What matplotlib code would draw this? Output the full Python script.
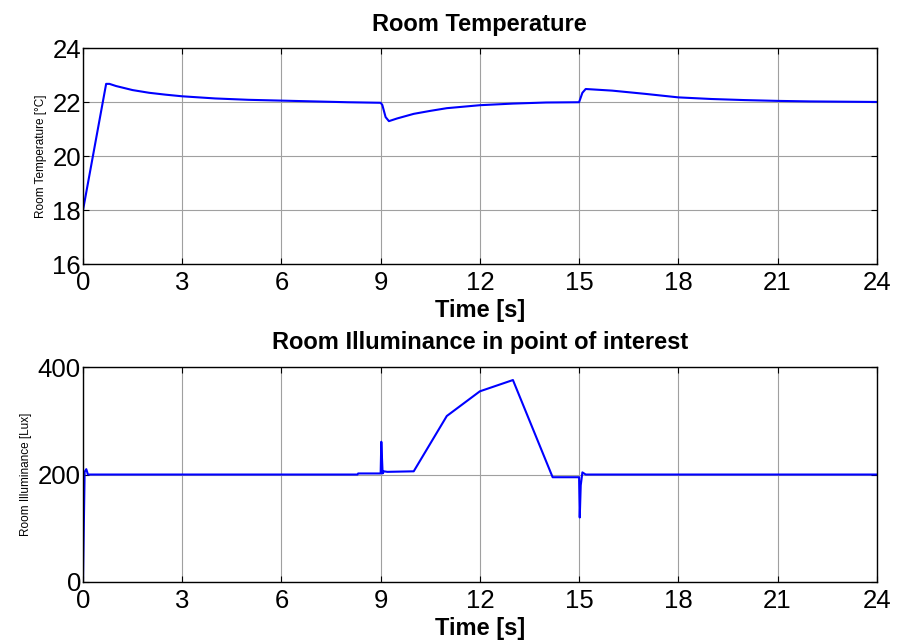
import numpy as np
import matplotlib.pyplot as plt

plt.rcParams['font.family'] = ['Liberation Sans', 'DejaVu Sans']

# room temperature response [degC]
t_temp = [0, 0.7, 0.8, 1.0, 1.5, 2.0, 2.5, 3.0, 4.0, 5.0, 6.0, 7.0, 8.0, 9.0,
          9.05, 9.15, 9.25, 9.5, 10.0, 10.5, 11.0, 12.0, 13.0, 14.0, 15.0,
          15.1, 15.2, 16.0, 17.0, 18.0, 19.0, 20.0, 21.0, 22.0, 23.0, 24.0]
temp = [18.0, 22.68, 22.68, 22.6, 22.45, 22.35, 22.28, 22.22, 22.14, 22.09,
        22.06, 22.03, 22.0, 21.98, 21.9, 21.45, 21.3, 21.4, 21.57, 21.68,
        21.78, 21.89, 21.95, 21.99, 22.0, 22.35, 22.49, 22.43, 22.31, 22.18,
        22.12, 22.08, 22.05, 22.03, 22.02, 22.01]

# illuminance in the point of interest [Lux]
t_lux = [0, 0.05, 0.1, 0.15, 8.3, 8.32, 9.0, 9.02, 9.06, 9.1, 9.2, 10.0,
         11.0, 12.0, 13.0, 14.2, 15.0, 15.02, 15.05, 15.1, 15.2, 24.0]
lux = [0, 205, 210, 200, 200, 202, 202, 261, 202, 206, 205, 206,
       309, 355, 376, 195, 195, 120, 180, 204, 200, 200]

xticks = np.arange(0, 25, 3)

fig = plt.figure(figsize=(9.02, 6.43), dpi=100)
ax1 = fig.add_axes([0.092, 0.589, 0.880, 0.336])
ax2 = fig.add_axes([0.092, 0.095, 0.880, 0.334])

for ax in (ax1, ax2):
    ax.set_xlim(0, 24)
    ax.set_xticks(xticks)
    ax.grid(True, color='#a0a0a0', linewidth=0.8)
    ax.tick_params(direction='in', top=True, right=True, labelsize=18.5,
                   length=4)
    ax.tick_params(axis='x', pad=5)
    ax.tick_params(axis='y', pad=1.5)
    for s in ax.spines.values():
        s.set_linewidth(1.0)
    ax.set_xlabel('Time [s]', fontsize=17, fontweight='bold', labelpad=3)

ax1.plot(t_temp, temp, color='#0000ff', linewidth=1.5)
ax1.set_ylim(16, 24)
ax1.set_yticks([16, 18, 20, 22, 24])
ax1.set_title('Room Temperature', fontsize=17, fontweight='bold', pad=12.5)
ax1.set_ylabel('Room Temperature [°C]', fontsize=8.5, labelpad=4)

ax2.plot(t_lux, lux, color='#0000ff', linewidth=1.5)
ax2.set_ylim(0, 400)
ax2.set_yticks([0, 200, 400])
ax2.set_title('Room Illuminance in point of interest', fontsize=17,
              fontweight='bold', pad=13)
ax2.set_ylabel('Room Illuminance [Lux]', fontsize=8.5, labelpad=4)

fig.savefig('out.png', dpi=100)
